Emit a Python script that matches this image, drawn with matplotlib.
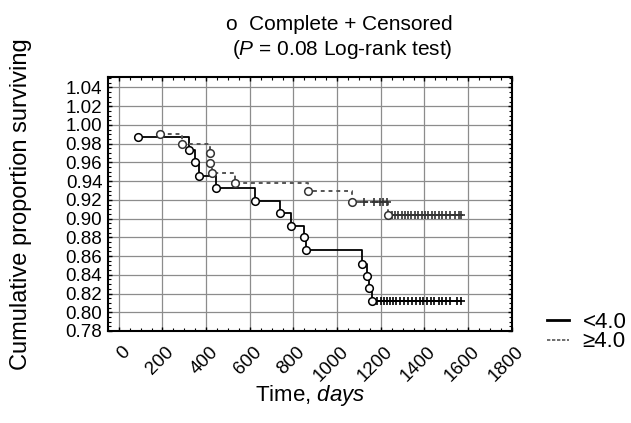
import numpy as np
import matplotlib
matplotlib.use("Agg")
import matplotlib.pyplot as plt
import matplotlib.lines as mlines
import matplotlib.transforms as mtransforms
from matplotlib.ticker import MultipleLocator

plt.rcParams['font.family'] = ['Liberation Sans', 'DejaVu Sans']
plt.rcParams['mathtext.fontset'] = 'custom'
plt.rcParams['mathtext.rm'] = 'Liberation Sans'
plt.rcParams['mathtext.it'] = 'Liberation Sans:italic'

# <4.0 group: event times (complete) and survival after each event
lt_time = [89, 323, 350, 369, 446, 626, 737, 790, 848, 856, 1116, 1139, 1147, 1162]
lt_surv = [0.987, 0.973, 0.960, 0.946, 0.933, 0.919, 0.906, 0.892, 0.880, 0.866,
           0.852, 0.839, 0.826, 0.812]
lt_cens = [1185, 1200, 1215, 1228, 1242, 1256, 1270, 1290, 1305, 1325, 1345, 1360,
           1378, 1395, 1412, 1428, 1446, 1465, 1480, 1498, 1515, 1550, 1569]

# >=4.0 group
ge_time = [189, 290, 419, 420, 426, 530, 866, 1070, 1234]
ge_surv = [0.990, 0.980, 0.970, 0.959, 0.949, 0.938, 0.929, 0.918, 0.904]
ge_cens_a = [1123, 1170, 1195, 1212, 1228]          # at 0.918
ge_cens_b = [1250, 1265, 1280, 1295, 1310, 1325, 1340, 1356, 1372, 1388, 1402,
             1418, 1434, 1450, 1466, 1482, 1498, 1515, 1540, 1560, 1569]  # at 0.904

xticks = [0, 200, 400, 600, 800, 1000, 1200, 1400, 1600, 1800]
yticks = [0.78, 0.80, 0.82, 0.84, 0.86, 0.88, 0.90, 0.92, 0.94, 0.96, 0.98, 1.00, 1.02, 1.04]

fig = plt.figure(figsize=(6.31, 4.23), dpi=100)
ax = fig.add_axes([0.171, 0.2175, 0.640, 0.600])

# solid group
x = lt_time + [max(lt_cens)]
y = lt_surv + [lt_surv[-1]]
ax.step(x, y, where='post', color='black', lw=1.3, zorder=3)
ax.plot(lt_cens, [lt_surv[-1]] * len(lt_cens), ls='none', marker='+', ms=6,
        mew=1.2, color='black', zorder=4)
ax.plot(lt_time, lt_surv, ls='none', marker='o', ms=5.5, mfc='white',
        mec='black', mew=1.1, zorder=5)

# dashed group
x = ge_time + [max(ge_cens_b)]
y = ge_surv + [ge_surv[-1]]
ax.step(x, y, where='post', color='#555555', lw=1.4, ls=(0, (2, 2)), zorder=3)
ax.plot(ge_cens_a, [ge_surv[-2]] * len(ge_cens_a), ls='none', marker='+', ms=6,
        mew=1.2, color='#333333', zorder=4)
ax.plot(ge_cens_b, [ge_surv[-1]] * len(ge_cens_b), ls='none', marker='+', ms=6,
        mew=1.2, color='#333333', zorder=4)
ax.plot(ge_time, ge_surv, ls='none', marker='o', ms=5.5, mfc='white',
        mec='#333333', mew=1.1, zorder=5)

ax.set_xlim(-50, 1800)
ax.set_ylim(0.78, 1.051)
ax.set_xticks(xticks)
ax.set_yticks(yticks)
ax.set_yticklabels(["%.2f" % v for v in yticks])
ax.xaxis.set_minor_locator(MultipleLocator(50))
ax.yaxis.set_minor_locator(MultipleLocator(0.005))
ax.grid(True, which='major', color='#8c8c8c', lw=0.9)
ax.tick_params(which='both', direction='in', top=True, right=True, labelsize=13.5)
ax.tick_params(which='major', length=3, width=1)
ax.tick_params(which='minor', length=2, width=0.8)
ax.tick_params(axis='y', pad=4)
ax.tick_params(axis='x', pad=9)
for sp in ax.spines.values():
    sp.set_linewidth(1.5)
shift = mtransforms.ScaledTranslation(3 / 100, 0, fig.dpi_scale_trans)
for lab in ax.get_xticklabels():
    lab.set_rotation(45)
    lab.set_ha('right')
    lab.set_rotation_mode('anchor')
    lab.set_transform(lab.get_transform() + shift)

ax.set_ylabel("Cumulative proportion surviving", fontsize=17)
ax.yaxis.set_label_coords(-0.187, 0.5)
ax.set_xlabel("Time, $\\mathit{days}$", fontsize=16)
ax.xaxis.set_label_coords(0.5, -0.205)

fig.text(0.537, 0.943, "o  Complete + Censored", ha='center', va='center', fontsize=15)
fig.text(0.543, 0.882, "($\\mathit{P}$ = 0.08 Log-rank test)", ha='center', va='center', fontsize=15)

h1 = mlines.Line2D([], [], color='black', lw=2)
h2 = mlines.Line2D([], [], color='#555555', lw=1.2, ls=(0, (2, 1)))
fig.legend(handles=[h1, h2], labels=["<4.0", "\u22654.0"], loc='center left',
           bbox_to_anchor=(0.835, 0.215), frameon=False, fontsize=16,
           handlelength=1.0, handletextpad=0.6, labelspacing=-0.05)

fig.savefig("out.png", dpi=100)
